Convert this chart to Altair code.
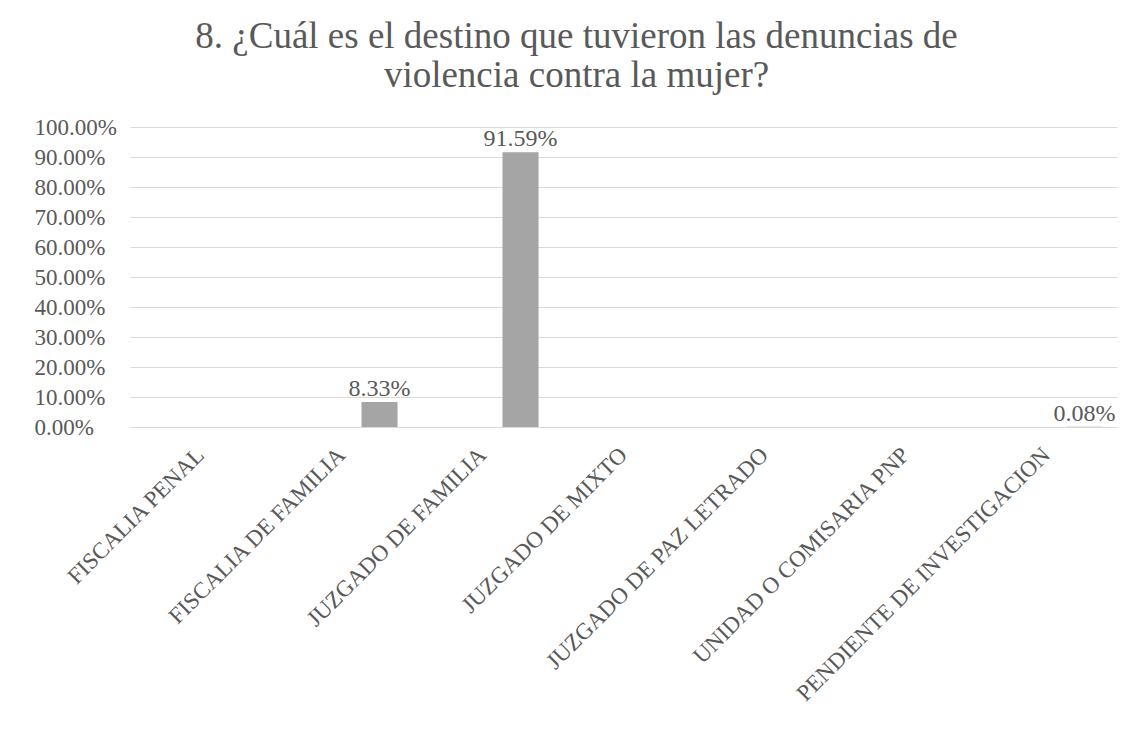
import altair as alt
import pandas as pd

categorias = [
    "FISCALIA PENAL",
    "FISCALIA DE FAMILIA",
    "JUZGADO DE FAMILIA",
    "JUZGADO DE MIXTO",
    "JUZGADO DE PAZ LETRADO",
    "UNIDAD O COMISARIA PNP",
    "PENDIENTE DE INVESTIGACION",
]
valores = [0.0, 0.0833, 0.9159, 0.0, 0.0, 0.0, 0.0008]
serie = "Serie1"
ticks_y = [i / 10 for i in range(11)]

df = pd.DataFrame({"cat": categorias, "v": valores, "serie": serie})

FONT = "Liberation Serif"
GRAY = "#595959"

x = alt.X("cat:N", sort=categorias, title=None,
          scale=alt.Scale(paddingInner=0, paddingOuter=0),
          axis=alt.Axis(labelAngle=315, labelAlign="right", labelBaseline="middle",
                        labelPadding=24, ticks=False, domain=False,
                        labelFont=FONT, labelFontSize=23, labelColor=GRAY,
                        labelLimit=500))
xo = alt.XOffset("serie:N",
                 scale=alt.Scale(domain=["_", serie], paddingInner=0.526, paddingOuter=0.19))
y = alt.Y("v:Q", title=None,
          scale=alt.Scale(domain=[0, 1], nice=False),
          axis=alt.Axis(format=".2%", values=ticks_y,
                        ticks=False, domain=False, labelPadding=96, labelAlign="left",
                        labelFont=FONT, labelFontSize=23, labelColor=GRAY,
                        gridColor="#d9d9d9", gridWidth=1.2))

base = alt.Chart(df)
bars = base.mark_bar(color="#a5a5a5").encode(x=x, xOffset=xo, y=y)
labels = base.transform_filter("datum.v > 0").mark_text(
    font=FONT, fontSize=24, color=GRAY, baseline="bottom", dy=-1
).encode(x=x, xOffset=xo, y=y, text=alt.Text("v:Q", format=".2%"))

chart = (bars + labels).properties(
    width=987, height=300,
    title=alt.TitleParams(
        ["8. ¿Cuál es el destino que tuvieron las denuncias de", "violencia contra la mujer?"],
        font=FONT, fontSize=37, fontWeight="normal", color=GRAY,
        anchor="middle", dx=-47, offset=21, lineHeight=39,
    ),
    autosize=alt.AutoSizeParams(type="none"),
    padding={"left": 122, "top": 119, "right": 4, "bottom": 297},
).configure(background="white").configure_view(stroke=None)

chart.save("out.html", embed_options={"renderer": "svg", "actions": False})
